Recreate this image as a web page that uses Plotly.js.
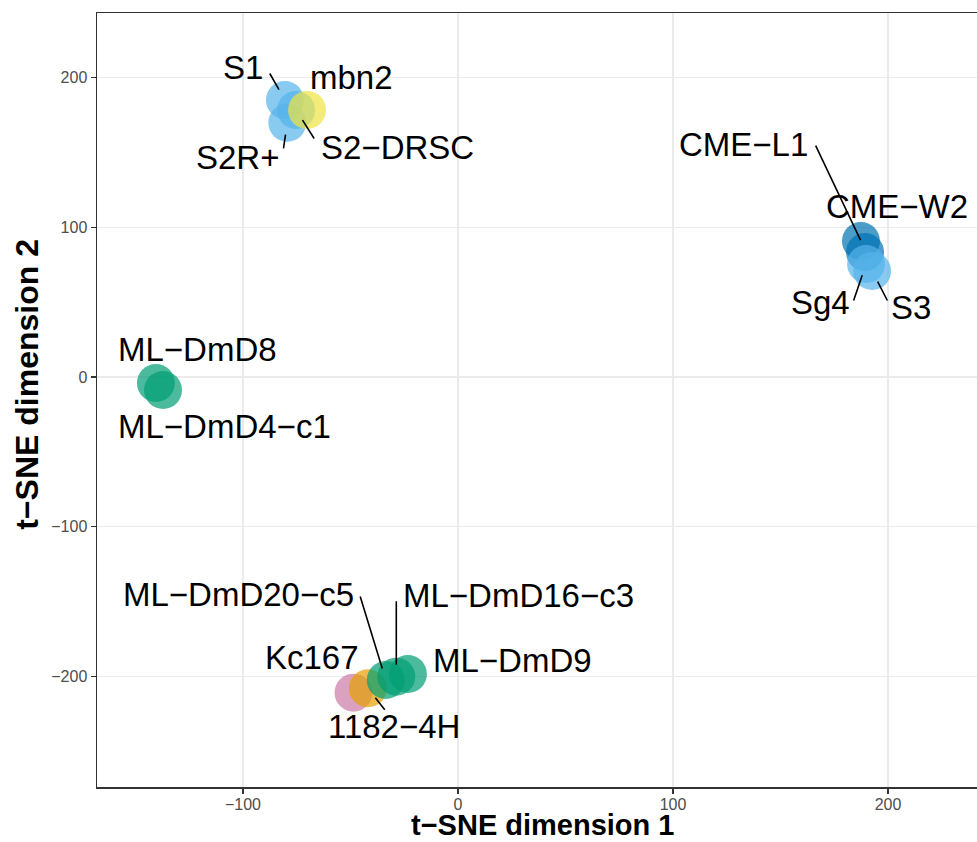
<!DOCTYPE html>
<html>
<head>
<meta charset="utf-8">
<script src="https://cdn.plot.ly/plotly-3.0.1.min.js"></script>
<style>
  html, body { margin: 0; padding: 0; overflow: hidden; background: #fff; }
  #plot { width: 990px; height: 842px; }
</style>
</head>
<body>
<div id="plot"></div>
<script>
// Cell lines and their t-SNE coordinates
const cellLines = [
  "S1", "S2R+", "S2\u2212DRSC", "mbn2",
  "CME\u2212L1", "CME\u2212W2", "Sg4", "S3",
  "ML\u2212DmD8", "ML\u2212DmD4\u2212c1",
  "Kc167", "1182\u22124H", "ML\u2212DmD20\u2212c5", "ML\u2212DmD16\u2212c3", "ML\u2212DmD9"
];
const tsneDim1 = [
  -80.5, -79.4, -75.3, -70.2,
  187.4, 189.3, 189.8, 192.6,
  -140.5, -137.2,
  -48.6, -41.9, -33.6, -28.7, -23.3
];
const tsneDim2 = [
  185.0, 169.8, 178.3, 178.3,
  90.8, 83.5, 75.5, 70.8,
  -4.0, -8.7,
  -210.8, -207.9, -202.3, -200.1, -198.3
];
const tissueGroup = [
  "embryo", "embryo", "embryo", "hemocyte",
  "disc", "disc", "embryo", "embryo",
  "CNS", "CNS",
  "kc", "wing", "CNS", "CNS", "CNS"
];

// Okabe-Ito colours per group
const groupColours = {
  embryo: "#56B4E9",
  hemocyte: "#F0E442",
  disc: "#0072B2",
  CNS: "#009E73",
  kc: "#CC79A7",
  wing: "#E69F00"
};

// Repelled label layout, in pixels relative to each point:
// text centre offset [dx, dy] and, where a leader is drawn, the leader's start [sx, sy]
const labelPlacement = {
  "S1":                 { text: [-42, -33], seg: [-16, -28] },
  "S2R+":               { text: [-50, 35],  seg: [-4, 27] },
  "S2\u2212DRSC":       { text: [101, 37],  seg: [19, 30] },
  "mbn2":               { text: [44, -33] },
  "CME\u2212L1":        { text: [-117, -97], seg: [-46, -97] },
  "CME\u2212W2":        { text: [32, -45] },
  "Sg4":                { text: [-46, 39],  seg: [-13, 38] },
  "S3":                 { text: [39, 36],   seg: [16, 31] },
  "ML\u2212DmD8":       { text: [42, -34] },
  "ML\u2212DmD4\u2212c1": { text: [61, 36] },
  "Kc167":              { text: [-42, -35] },
  "1182\u22124H":       { text: [26, 38],   seg: [18, 23] },
  "ML\u2212DmD20\u2212c5": { text: [-147, -85], seg: [-26, -85] },
  "ML\u2212DmD16\u2212c3": { text: [122, -81], seg: [0, -77] },
  "ML\u2212DmD9":       { text: [105, -13] }
};

const labelFont = { family: "Liberation Sans, Arial, sans-serif", size: 33, color: "#000000" };
const titleFont = { family: "Liberation Sans, Arial, sans-serif", color: "#000000", weight: "bold" };

const trace = {
  type: "scatter",
  mode: "markers",
  x: tsneDim1,
  y: tsneDim2,
  text: cellLines,
  hoverinfo: "text",
  marker: {
    size: 38,
    color: tissueGroup.map(g => groupColours[g]),
    opacity: 0.7,
    line: { width: 0 }
  },
  showlegend: false
};

const annotations = [];
cellLines.forEach((name, i) => {
  const p = labelPlacement[name];
  if (p.seg) {
    // leader segment from the label towards the point
    annotations.push({
      x: tsneDim1[i], y: tsneDim2[i], xref: "x", yref: "y",
      text: "",
      showarrow: true,
      ax: p.seg[0], ay: p.seg[1],
      arrowhead: 0,
      arrowwidth: 1.6,
      arrowcolor: "#000000",
      standoff: name === "CME\u2212L1" ? 1 : 12
    });
  }
  annotations.push({
    x: tsneDim1[i], y: tsneDim2[i], xref: "x", yref: "y",
    text: name,
    showarrow: false,
    xshift: p.text[0],
    yshift: -p.text[1],
    font: labelFont
  });
});

// axis titles
annotations.push({
  text: "t\u2212SNE dimension 1",
  xref: "paper", yref: "paper",
  x: 0.5034, y: -0.049,
  xanchor: "center", yanchor: "middle",
  borderpad: 0,
  showarrow: false,
  font: Object.assign({ size: 29 }, titleFont)
});
annotations.push({
  text: "t\u2212SNE dimension 2",
  xref: "paper", yref: "paper",
  x: -0.080, y: 0.52,
  xanchor: "center", yanchor: "middle",
  textangle: -90,
  showarrow: false,
  font: Object.assign({ size: 32 }, titleFont)
});

const axisCommon = {
  showgrid: true,
  gridcolor: "#EBEBEB",
  gridwidth: 1.1,
  zeroline: false,
  showline: true,
  linecolor: "#333333",
  linewidth: 1.5,
  mirror: true,
  ticks: "outside",
  ticklen: 5,
  tickwidth: 1.1,
  tickcolor: "#333333",
  tickfont: { family: "Liberation Sans, Arial, sans-serif", size: 16, color: "#4D4D4D" }
};

const layout = {
  width: 990,
  height: 842,
  margin: { l: 97, r: 8, t: 13, b: 55 },
  paper_bgcolor: "#FFFFFF",
  plot_bgcolor: "#FFFFFF",
  xaxis: Object.assign({}, axisCommon, {
    range: [-167.9, 243.7],
    tickvals: [-100, 0, 100, 200],
    ticktext: ["\u2212100", "0", "100", "200"],
    ticklabelstandoff: -3
  }),
  yaxis: Object.assign({}, axisCommon, {
    range: [-273.8, 243.1],
    tickvals: [-200, -100, 0, 100, 200],
    ticktext: ["\u2212200", "\u2212100", "0", "100", "200"]
  }),
  annotations: annotations
};

Plotly.newPlot("plot", [trace], layout, { displayModeBar: false, staticPlot: true });
</script>
</body>
</html>
